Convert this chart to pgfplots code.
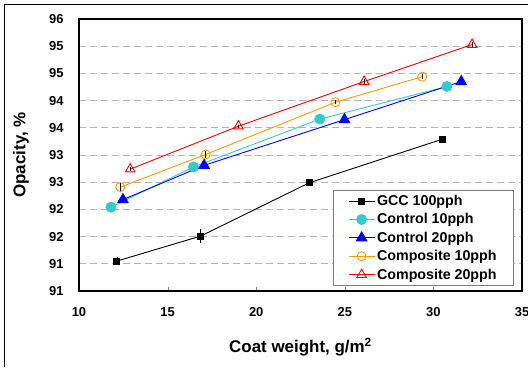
\documentclass[border=0pt]{standalone}
\usepackage{fontspec}
\setmainfont{Liberation Sans}
\usepackage{pgfplots}
\pgfplotsset{compat=1.18}
\definecolor{ccyan}{HTML}{33CCCC}
\definecolor{corange}{HTML}{FF9900}
\definecolor{cgrid}{HTML}{B4B4B4}
\begin{document}
\begin{tikzpicture}[x=1bp,y=1bp]
\path[use as bounding box] (0,0) rectangle (528,367);
\draw[line width=1bp] (4.5,0) -- (4.5,362) -- (528,362);
\begin{axis}[
  at={(79bp,76bp)}, anchor=south west,
  scale only axis, width=443bp, height=272bp,
  xmin=10, xmax=35, ymin=90.5, ymax=95.5,
  xtick={10,15,20,25,30,35},
  ytick={90.5,91,91.5,92,92.5,93,93.5,94,94.5,95,95.5},
  yticklabels={91,91,92,92,93,93,94,94,95,95,96},
  /pgf/number format/assume math mode=true,
  ticklabel style={font=\bfseries\fontsize{13}{13}\selectfont},
  xticklabel style={yshift=-13bp},
  yticklabel style={xshift=-12bp},
  xtick pos=bottom, ytick pos=left,
  xtick align=inside,
  major tick length=4bp,
  ytick style={draw=none},
  ymajorgrids,
  grid style={cgrid, line width=1bp, dash pattern=on 7bp off 4bp},
  axis line style={line width=1.2bp},
  xlabel={Coat weight, g/m\textsuperscript{2}},
  ylabel={Opacity, \%},
  label style={font=\bfseries\fontsize{17}{17}\selectfont},
  xlabel style={at={(axis description cs:0.5,-0.206)}, anchor=center},
  ylabel style={at={(axis description cs:-0.131,0.5)}, anchor=center},
  legend style={at={(1,0)}, anchor=south east, xshift=-8bp, yshift=5bp,
    draw=gray, line width=0.8bp, font=\bfseries\fontsize{14.3}{15}\selectfont,
    row sep=2.6bp, inner xsep=15bp, inner ysep=3bp},
  legend cell align=left,
  legend image code/.code={\draw[mark repeat=2,mark phase=2] plot coordinates {(0bp,0bp) (13bp,0bp) (26bp,0bp)};},
  error bars/error bar style={black, line width=0.8bp},
  error bars/error mark=none,
]
\addplot[black, line width=0.9bp, mark=square*, mark size=3bp, mark options={solid},
  error bars/.cd, y dir=both, y explicit]
  coordinates {(12.14,91.05) +- (0,0.07) (16.87,91.51) +- (0,0.13) (23.0,92.49) +- (0,0.04) (30.5,93.29) +- (0,0.03)};
\addlegendentry{GCC 100pph}
\addplot[ccyan, line width=0.9bp, mark=*, mark size=5bp, mark options={solid, fill=ccyan}]
  coordinates {(11.8,92.04) (16.46,92.78) (23.59,93.66) (30.76,94.26)};
\addlegendentry{Control 10pph}
\addplot[blue, line width=0.9bp, mark=triangle*, mark size=6bp, mark options={solid, fill=blue}]
  coordinates {(12.48,92.18) (17.06,92.81) (24.98,93.65) (31.57,94.35)};
\addlegendentry{Control 20pph}
\addplot[corange, line width=0.9bp, mark=o, mark size=4.5bp, mark options={solid, fill=white, line width=0.9bp},
  error bars/.cd, y dir=both, y explicit]
  coordinates {(12.33,92.41) +- (0,0.07) (17.15,93.01) +- (0,0.07) (24.47,93.97) +- (0,0.04) (29.37,94.44) +- (0,0.05)};
\addlegendentry{Composite 10pph}
\addplot[red, line width=0.9bp, mark=triangle, mark size=5.5bp, mark options={solid, fill=white, line width=0.9bp},
  error bars/.cd, y dir=both, y explicit]
  coordinates {(12.89,92.74) +- (0,0.04) (19.0,93.53) +- (0,0.03) (26.09,94.35) +- (0,0.05) (32.18,95.03) +- (0,0.04)};
\addlegendentry{Composite 20pph}
\end{axis}
\end{tikzpicture}
\end{document}
